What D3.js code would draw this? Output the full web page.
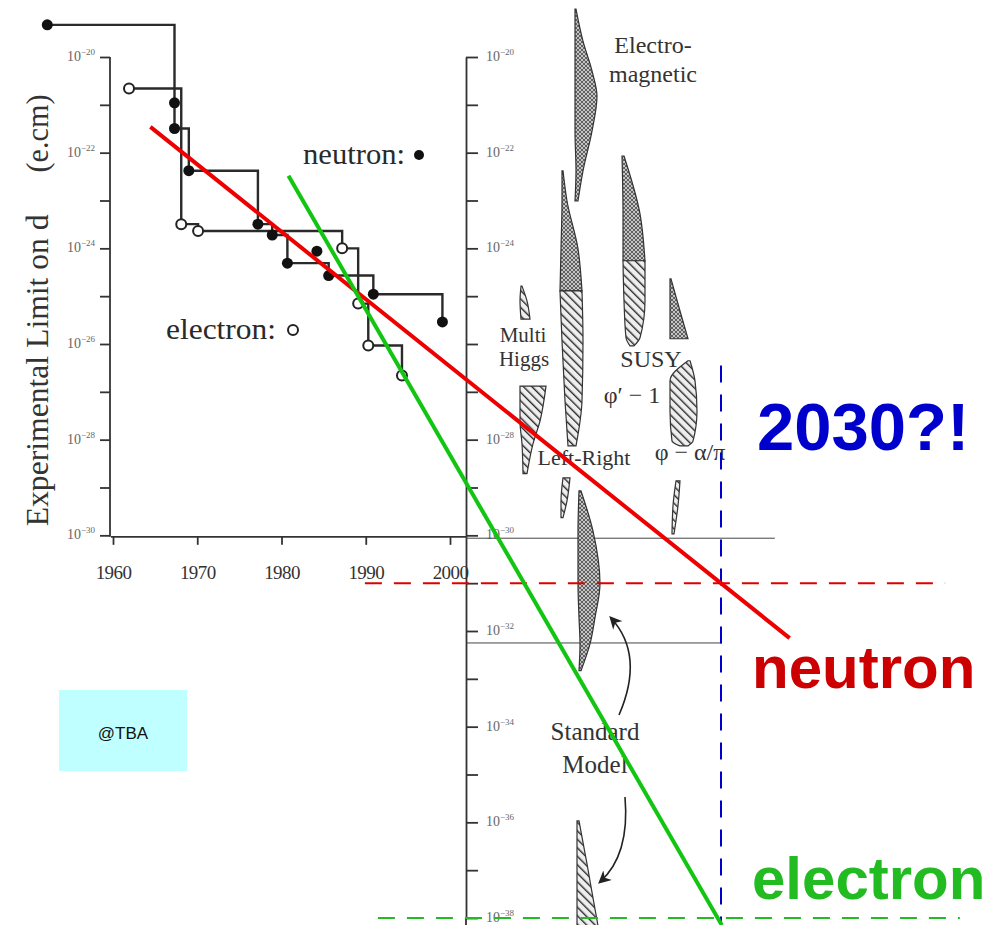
<!DOCTYPE html>
<html>
<head>
<meta charset="utf-8">
<script src="https://cdn.jsdelivr.net/npm/d3@7"></script>
<style>
  body { margin: 0; background: #fff; }
  svg { display: block; }
</style>
</head>
<body>
<svg id="chart" width="987" height="925"></svg>
<script>
// ---------- Experimental EDM limits (year, |d| in e.cm) ----------
const neutronYears  = [1952.2, 1967.3, 1967.3, 1969.0, 1977.2, 1978.9, 1980.7, 1985.6, 1990.9, 1999.1];
const neutronLimits = [4.7e-20, 1.1e-21, 3.2e-22, 4.2e-23, 3.2e-24, 1.9e-24, 4.9e-25, 2.7e-25, 1.1e-25, 2.9e-26];
// a neutron result that did not improve the limit (point only)
const neutronOtherYears  = [1984.2];
const neutronOtherLimits = [8.7e-25];

const electronYears  = [1961.9, 1968.1, 1970.1, 1987.2, 1989.1, 1990.3, 1994.3];
const electronLimits = [2.2e-21, 3.2e-24, 2.3e-24, 1.0e-24, 7.0e-26, 9.3e-27, 2.2e-27];

// ---------- Extrapolated trends (year, log10 d) ----------
const neutronTrendYears = [1964.3, 2037.9];
const neutronTrendExp   = [-21.46, -32.15];
const electronTrendYears = [1980.2, 2030.1];
const electronTrendExp   = [-22.48, -38.15];

const targetYear = 2030;
const neutronGoalExp = -31;      // red dashed level
const electronGoalExp = -38;     // green dashed level
const neutronGoalSpan = [1989.0, 2055.8];
const electronGoalSpan = [1990.5, 2057.5];
const targetSpanExp = [-26.45, -38.15];

// thin reference levels on the theory panel
const refLevelExp = [-30.06, -32.25];
const refLevelEnd = [2036.2, 2030.1];

// ---------- Axis ticks ----------
const yearTicks = [1960, 1970, 1980, 1990, 2000];
const leftExps  = d3.range(-20, -31, -1);
const leftLabelExps = [-20, -22, -24, -26, -28, -30];
const rightExps = d3.range(-20, -39, -1);
const rightLabelExps = [-20, -22, -24, -28, -30, -32, -34, -36, -38];

// ---------- Theoretical prediction ranges ----------
// profile rows: [log10 d, left edge, right edge] (edges in width units from the column)
const modelColumns = ["Multi Higgs", "Left-Right", "Electromagnetic", "Standard Model", "SUSY", "phi-alpha/pi"];
const modelBands = [
  { model: "Electromagnetic", hatch: "cross", profile: [[-19.0,.2,.3],[-19.67,.2,1.0],[-20.29,.2,1.9],[-20.82,.2,2.4],[-21.55,.2,1.9],[-22.38,.3,1.0],[-23.01,.2,.5]] },
  { model: "Left-Right", hatch: "cross", profile: [[-22.38,.4,.5],[-23.01,.4,.9],[-24.01,.3,2.0],[-24.89,.2,2.4]] },
  { model: "Left-Right", hatch: "diag",  profile: [[-24.89,.2,2.4],[-25.94,.4,2.5],[-27.19,.7,2.4],[-28.13,1.0,1.8]] },
  { model: "Left-Right", hatch: "diag",  profile: [[-28.80,.5,1.2],[-29.28,.3,.9],[-29.63,.3,.5]] },
  { model: "Standard Model", hatch: "cross", profile: [[-29.07,.3,.5],[-29.91,.2,1.7],[-31.01,.2,2.4],[-31.72,.3,1.9],[-32.27,.4,1.4],[-32.83,.3,.5]] },
  { model: "Standard Model", hatch: "diag",  profile: [[-35.97,.1,.3],[-36.87,.1,1.1],[-37.58,.1,1.7],[-38.16,.1,2.2]] },
  { model: "SUSY", hatch: "cross", profile: [[-22.07,.2,.4],[-23.28,.3,2.0],[-24.26,.3,2.5]] },
  { model: "SUSY", hatch: "diag",  profile: [[-24.26,.3,2.5],[-25.10,.4,2.5],[-25.87,.6,2.0],[-26.04,1.0,1.4]] },
  { model: "phi-alpha/pi", hatch: "cross", profile: [[-24.64,.2,.3],[-25.31,.2,1.2],[-25.89,.2,2.0]] },
  { model: "phi-alpha/pi", hatch: "diag",  profile: [[-26.35,2.0,2.2],[-26.77,.2,2.7],[-27.40,.2,2.9],[-28.03,.4,2.5],[-28.13,1.2,2.0]] },
  { model: "phi-alpha/pi", hatch: "diag",  profile: [[-28.86,.8,1.2],[-29.38,.5,1.0],[-29.97,.4,.6]] },
  { model: "Multi Higgs", hatch: "diag", profile: [[-24.79,.3,.4],[-25.10,.2,.9],[-25.48,.3,1.2]] },
  { model: "Multi Higgs", hatch: "diag", profile: [[-26.88,.2,2.8],[-27.61,.2,2.2],[-28.09,.4,1.5],[-28.71,.5,.9]] }
];

// ---------- Scales ----------
const svg = d3.select("#chart");
const y = d3.scaleLog().domain([1e-20, 1e-38]).range([57, 918]);
const x = d3.scaleLinear().domain([1960, 2000]).range([113, 450]);
const xProj = d3.scaleLinear().domain([1960, 2030]).range([113, 721]);
const col = d3.scaleOrdinal().domain(modelColumns).range([518, 558, 573, 576, 620, 668]);
const w = d3.scaleLinear().domain([0, 1]).range([0, 10]);
const ye = e => y(Math.pow(10, e));

const leftX = 110, rightX = 466, bottomY = y(1e-30) + 1.5;
const serif = "'Liberation Serif', 'Times New Roman', serif";
const sans = "'Liberation Sans', Arial, sans-serif";
const ink = "#2a2a2a";

// ---------- Patterns ----------
const defs = svg.append("defs");
const cross = defs.append("pattern").attr("id", "cross").attr("patternUnits", "userSpaceOnUse")
  .attr("width", 4).attr("height", 4);
cross.append("rect").attr("width", 4).attr("height", 4).attr("fill", "#c4c4c4");
cross.append("path").attr("d", "M0,0 L4,4 M4,0 L0,4").attr("stroke", "#555").attr("stroke-width", 0.9);
const diag = defs.append("pattern").attr("id", "diag").attr("patternUnits", "userSpaceOnUse")
  .attr("width", 6).attr("height", 6).attr("patternTransform", "rotate(-45)");
diag.append("rect").attr("width", 6).attr("height", 6).attr("fill", "#eee");
diag.append("line").attr("x1", 0).attr("y1", 0).attr("x2", 0).attr("y2", 6)
  .attr("stroke", "#2a2a2a").attr("stroke-width", 2.8);
defs.append("marker").attr("id", "arrow").attr("viewBox", "0 0 10 10")
  .attr("refX", 8).attr("refY", 5).attr("markerWidth", 8).attr("markerHeight", 8)
  .attr("orient", "auto-start-reverse")
  .append("path").attr("d", "M0,0 L10,5 L0,10 L3,5 z").attr("fill", "#222");

function expLabel(g, xPos, e, anchor) {
  const t = g.append("text").attr("x", xPos).attr("y", ye(e) + 4)
    .attr("text-anchor", anchor).attr("font-family", serif).attr("font-size", 14).attr("fill", "#666");
  t.append("tspan").text("10");
  t.append("tspan").attr("dy", -6).attr("font-size", 9).text("\u2212" + (-e));
}
const labelsG = svg.append("g");

// ---------- Left axis ----------
const leftAxis = d3.axisLeft(y).tickValues(leftExps.map(e => Math.pow(10, e)))
  .tickSize(10).tickSizeOuter(0).tickFormat("");
const gl = svg.append("g").attr("transform", `translate(${leftX},0)`).call(leftAxis);
gl.select(".domain").remove();
gl.selectAll("line").attr("stroke", "#333").attr("stroke-width", 1.8);
svg.append("line").attr("x1", leftX).attr("x2", leftX).attr("y1", y(1e-20)).attr("y2", bottomY)
  .attr("stroke", "#333").attr("stroke-width", 1.8);
leftLabelExps.forEach(e => expLabel(labelsG, leftX - 15, e, "end"));

// ---------- Bottom axis ----------
const bottomAxis = d3.axisBottom(x).tickValues(yearTicks).tickSize(8).tickSizeOuter(0).tickFormat(d3.format("d"));
const gb = svg.append("g").attr("transform", `translate(0,${bottomY})`).call(bottomAxis);
gb.select(".domain").remove();
gb.selectAll("line").attr("stroke", "#333").attr("stroke-width", 1.8);
gb.selectAll("text").attr("font-family", serif).attr("font-size", 19).attr("fill", "#333")
  .attr("dy", 0).attr("y", 42).attr("letter-spacing", "-0.6");
svg.append("line").attr("x1", x(1960) - 2).attr("x2", rightX).attr("y1", bottomY).attr("y2", bottomY)
  .attr("stroke", "#333").attr("stroke-width", 1.8);

// ---------- Right axis ----------
const rightAxis = d3.axisRight(y).tickValues(rightExps.map(e => Math.pow(10, e)))
  .tickSize(12).tickSizeOuter(0).tickFormat("");
const gr = svg.append("g").attr("transform", `translate(${rightX},0)`).call(rightAxis);
gr.selectAll("path, line").attr("stroke", "#333").attr("stroke-width", 1.8);
svg.append("line").attr("x1", rightX).attr("x2", rightX).attr("y1", y(1e-38)).attr("y2", 925)
  .attr("stroke", "#333").attr("stroke-width", 1.8);
rightLabelExps.forEach(e => expLabel(labelsG, rightX + 20, e, "start"));

// thin reference levels
refLevelExp.forEach((e, i) => {
  svg.append("line").attr("x1", rightX).attr("x2", xProj(refLevelEnd[i]))
    .attr("y1", ye(e)).attr("y2", ye(e)).attr("stroke", "#444").attr("stroke-width", 1);
});

// y-axis title
svg.append("text").attr("transform", `translate(48,${ye(-26.55)}) rotate(-90)`)
  .attr("text-anchor", "middle").attr("font-family", serif).attr("font-size", 31).attr("fill", "#333")
  .attr("textLength", 312).attr("lengthAdjust", "spacingAndGlyphs")
  .text("Experimental Limit on d");
svg.append("text").attr("transform", `translate(48,${ye(-21.6)}) rotate(-90)`)
  .attr("text-anchor", "middle").attr("font-family", serif).attr("font-size", 31).attr("fill", "#333")
  .attr("textLength", 78).attr("lengthAdjust", "spacingAndGlyphs")
  .text("(e.cm)");

// ---------- Theory bands ----------
const bandArea = d3.area()
  .y(d => ye(d[0]))
  .curve(d3.curveMonotoneY);
svg.append("g").selectAll("path").data(modelBands).join("path")
  .attr("d", b => bandArea
      .x0(d => col(b.model) + w(d[1]))
      .x1(d => col(b.model) + w(d[2]))(b.profile))
  .attr("fill", b => `url(#${b.hatch})`)
  .attr("stroke", "#333").attr("stroke-width", 1.2);

// theory labels
const theoryText = [
  ["Electro-", 653, 53, 24], ["magnetic", 653, 82, 24],
  ["Multi", 523, 342, 21], ["Higgs", 524, 366, 21],
  ["SUSY", 651, 367, 24], ["\u03c6\u2032 \u2212 1", 632, 403, 24],
  ["Left-Right", 584, 465, 22], ["\u03c6 \u2212 \u03b1/\u03c0", 690, 460, 24],
  ["Standard", 595, 740, 25], ["Model", 595, 773, 25]
];
svg.append("g").selectAll("text").data(theoryText).join("text")
  .attr("x", d => d[1]).attr("y", d => d[2]).attr("font-size", d => d[3])
  .attr("text-anchor", "middle").attr("font-family", serif).attr("fill", "#333")
  .text(d => d[0]);

// Standard Model arrows
svg.append("path").attr("d", "M619,715 Q645,655 611,618")
  .attr("fill", "none").attr("stroke", "#222").attr("stroke-width", 1.6).attr("marker-end", "url(#arrow)");
svg.append("path").attr("d", "M625,797 Q630,855 600,882")
  .attr("fill", "none").attr("stroke", "#222").attr("stroke-width", 1.6).attr("marker-end", "url(#arrow)");

// ---------- Experimental step histories ----------
const step = d3.line().curve(d3.curveStepAfter);
const neutronPts = neutronYears.map((yr, i) => [x(yr), y(neutronLimits[i])]);
const electronPts = electronYears.map((yr, i) => [x(yr), y(electronLimits[i])]);
svg.append("path").attr("d", step(neutronPts)).attr("fill", "none").attr("stroke", ink).attr("stroke-width", 2.4);
svg.append("path").attr("d", step(electronPts)).attr("fill", "none").attr("stroke", ink).attr("stroke-width", 2.4);

const neutronAll = neutronPts.concat(neutronOtherYears.map((yr, i) => [x(yr), y(neutronOtherLimits[i])]));
svg.append("g").selectAll("circle").data(neutronAll).join("circle")
  .attr("cx", d => d[0]).attr("cy", d => d[1]).attr("r", 5.5).attr("fill", "#111");
svg.append("g").selectAll("circle").data(electronPts).join("circle")
  .attr("cx", d => d[0]).attr("cy", d => d[1]).attr("r", 5).attr("fill", "#fff")
  .attr("stroke", "#222").attr("stroke-width", 2);

// legend keys
svg.append("text").attr("x", 303).attr("y", 164).attr("font-family", serif).attr("font-size", 29).attr("fill", ink)
  .attr("textLength", 102).attr("lengthAdjust", "spacingAndGlyphs").text("neutron:");
svg.append("circle").attr("cx", 419).attr("cy", 155).attr("r", 5).attr("fill", "#111");
svg.append("text").attr("x", 166).attr("y", 339).attr("font-family", serif).attr("font-size", 29).attr("fill", ink)
  .attr("textLength", 110).attr("lengthAdjust", "spacingAndGlyphs").text("electron:");
svg.append("circle").attr("cx", 293).attr("cy", 330).attr("r", 5).attr("fill", "#fff").attr("stroke", "#222").attr("stroke-width", 2);

// ---------- Projections ----------
const projLine = d3.line();
svg.append("line")
  .attr("x1", xProj(neutronGoalSpan[0])).attr("x2", xProj(neutronGoalSpan[1]))
  .attr("y1", ye(neutronGoalExp)).attr("y2", ye(neutronGoalExp))
  .attr("stroke", "#dd0000").attr("stroke-width", 2).attr("stroke-dasharray", "17,12");
svg.append("line")
  .attr("x1", xProj(electronGoalSpan[0])).attr("x2", xProj(electronGoalSpan[1]))
  .attr("y1", ye(electronGoalExp)).attr("y2", ye(electronGoalExp))
  .attr("stroke", "#22bb22").attr("stroke-width", 2).attr("stroke-dasharray", "17,12");
svg.append("line")
  .attr("x1", xProj(targetYear)).attr("x2", xProj(targetYear))
  .attr("y1", ye(targetSpanExp[0])).attr("y2", ye(targetSpanExp[1]))
  .attr("stroke", "#0000cc").attr("stroke-width", 2).attr("stroke-dasharray", "17,12");

svg.append("path")
  .attr("d", projLine(neutronTrendYears.map((yr, i) => [xProj(yr), ye(neutronTrendExp[i])])))
  .attr("stroke", "#ee0000").attr("stroke-width", 4).attr("fill", "none");
svg.append("path")
  .attr("d", projLine(electronTrendYears.map((yr, i) => [xProj(yr), ye(electronTrendExp[i])])))
  .attr("stroke", "#11c511").attr("stroke-width", 4).attr("fill", "none");

// big labels
svg.append("text").attr("x", 757).attr("y", 450).attr("font-family", sans).attr("font-weight", "bold")
  .attr("font-size", 67).attr("fill", "#0000cc").text("2030?!");
svg.append("text").attr("x", 752).attr("y", 688).attr("font-family", sans).attr("font-weight", "bold")
  .attr("font-size", 60).attr("fill", "#cc0000").text("neutron");
svg.append("text").attr("x", 752).attr("y", 899).attr("font-family", sans).attr("font-weight", "bold")
  .attr("font-size", 60).attr("fill", "#22bb22").text("electron");

// tag box
svg.append("rect").attr("x", 59).attr("y", 690).attr("width", 128).attr("height", 81).attr("fill", "#c0ffff");
svg.append("text").attr("x", 123).attr("y", 739).attr("text-anchor", "middle").attr("font-family", sans)
  .attr("font-size", 17).attr("fill", "#111").text("@TBA");
</script>
</body>
</html>
